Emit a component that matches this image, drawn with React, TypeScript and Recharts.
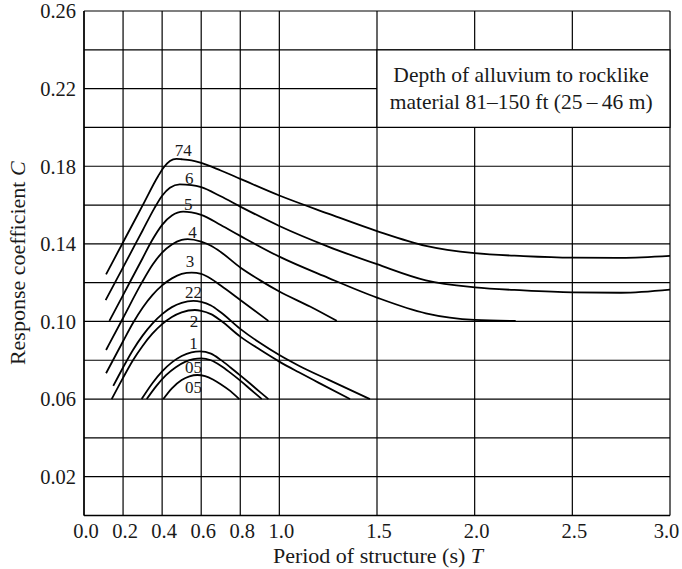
import React from 'react';
import { LineChart, Line, XAxis, YAxis, CartesianGrid, ReferenceArea, ReferenceDot } from 'recharts';

const xTicks = [0, 0.2, 0.4, 0.6, 0.8, 1.0, 1.5, 2.0, 2.5, 3.0];
const yGrid = [0, 0.02, 0.04, 0.06, 0.08, 0.1, 0.12, 0.14, 0.16, 0.18, 0.2, 0.22, 0.24, 0.26];
const yLabeled = [0.02, 0.06, 0.1, 0.14, 0.18, 0.22, 0.26];

const curve74 = [
  { x: 0.113, y: 0.1243 }, { x: 0.2, y: 0.1408 }, { x: 0.3, y: 0.1598 }, { x: 0.38, y: 0.175 },
  { x: 0.41, y: 0.1796 }, { x: 0.44, y: 0.1827 }, { x: 0.473, y: 0.1838 }, { x: 0.5, y: 0.1836 },
  { x: 0.55, y: 0.183 }, { x: 0.6, y: 0.1817 }, { x: 0.7, y: 0.1778 }, { x: 0.8, y: 0.1735 },
  { x: 1.0, y: 0.1649 }, { x: 1.25, y: 0.1556 }, { x: 1.5, y: 0.1466 }, { x: 1.75, y: 0.139 },
  { x: 2.0, y: 0.1352 }, { x: 2.25, y: 0.1337 }, { x: 2.5, y: 0.1329 }, { x: 2.75, y: 0.1328 },
  { x: 3.0, y: 0.1338 },
];
const curve6 = [
  { x: 0.111, y: 0.111 }, { x: 0.2, y: 0.1279 }, { x: 0.3, y: 0.1469 }, { x: 0.36, y: 0.1583 },
  { x: 0.4, y: 0.1648 }, { x: 0.44, y: 0.1689 }, { x: 0.49, y: 0.1707 }, { x: 0.55, y: 0.1703 },
  { x: 0.6, y: 0.1692 }, { x: 0.7, y: 0.1645 }, { x: 0.8, y: 0.1592 }, { x: 1.0, y: 0.1492 },
  { x: 1.25, y: 0.1386 }, { x: 1.5, y: 0.1295 }, { x: 1.75, y: 0.1212 }, { x: 2.0, y: 0.1176 },
  { x: 2.25, y: 0.116 }, { x: 2.5, y: 0.115 }, { x: 2.75, y: 0.1148 }, { x: 3.0, y: 0.1164 },
];
const curve5 = [
  { x: 0.13, y: 0.1003 }, { x: 0.2, y: 0.1136 }, { x: 0.3, y: 0.1326 }, { x: 0.345, y: 0.1412 },
  { x: 0.4, y: 0.1498 }, { x: 0.45, y: 0.1546 }, { x: 0.508, y: 0.1566 }, { x: 0.55, y: 0.1562 },
  { x: 0.6, y: 0.1549 }, { x: 0.7, y: 0.1497 }, { x: 0.8, y: 0.1441 }, { x: 1.0, y: 0.1334 },
  { x: 1.25, y: 0.1225 }, { x: 1.5, y: 0.1123 }, { x: 1.75, y: 0.1042 }, { x: 2.0, y: 0.1008 },
  { x: 2.21, y: 0.1003 },
];
const curve4 = [
  { x: 0.113, y: 0.0853 }, { x: 0.2, y: 0.1018 }, { x: 0.296, y: 0.12 }, { x: 0.35, y: 0.1291 },
  { x: 0.4, y: 0.1355 }, { x: 0.45, y: 0.1397 }, { x: 0.5, y: 0.142 }, { x: 0.531, y: 0.1424 },
  { x: 0.6, y: 0.1411 }, { x: 0.65, y: 0.139 }, { x: 0.7, y: 0.1358 }, { x: 0.8, y: 0.1278 },
  { x: 0.9, y: 0.1213 }, { x: 1.0, y: 0.1154 }, { x: 1.157, y: 0.1077 }, { x: 1.294, y: 0.1003 },
];
const curve3 = [
  { x: 0.113, y: 0.0733 }, { x: 0.2, y: 0.0898 }, { x: 0.25, y: 0.0991 }, { x: 0.3, y: 0.1071 },
  { x: 0.35, y: 0.1136 }, { x: 0.4, y: 0.1186 }, { x: 0.45, y: 0.1222 }, { x: 0.5, y: 0.1245 },
  { x: 0.551, y: 0.1252 }, { x: 0.6, y: 0.1245 }, { x: 0.65, y: 0.122 }, { x: 0.7, y: 0.1185 },
  { x: 0.8, y: 0.1111 }, { x: 0.944, y: 0.1003 },
];
const curve22 = [
  { x: 0.15, y: 0.0668 }, { x: 0.2, y: 0.0763 }, { x: 0.25, y: 0.0852 }, { x: 0.3, y: 0.0927 },
  { x: 0.35, y: 0.0989 }, { x: 0.4, y: 0.1038 }, { x: 0.45, y: 0.1074 }, { x: 0.5, y: 0.1096 },
  { x: 0.56, y: 0.1106 }, { x: 0.6, y: 0.1101 }, { x: 0.65, y: 0.1082 }, { x: 0.7, y: 0.1047 },
  { x: 0.8, y: 0.0962 }, { x: 0.9, y: 0.089 }, { x: 1.0, y: 0.0827 }, { x: 1.1, y: 0.0772 },
  { x: 1.25, y: 0.07 }, { x: 1.464, y: 0.06 },
];
const curve2 = [
  { x: 0.142, y: 0.06 }, { x: 0.199, y: 0.0708 }, { x: 0.25, y: 0.0799 }, { x: 0.3, y: 0.0874 },
  { x: 0.35, y: 0.0937 }, { x: 0.4, y: 0.0986 }, { x: 0.45, y: 0.1023 }, { x: 0.5, y: 0.1047 },
  { x: 0.568, y: 0.1059 }, { x: 0.6, y: 0.1055 }, { x: 0.65, y: 0.1038 }, { x: 0.7, y: 0.1005 },
  { x: 0.8, y: 0.0922 }, { x: 0.9, y: 0.0855 }, { x: 1.0, y: 0.0793 }, { x: 1.1, y: 0.0738 },
  { x: 1.2, y: 0.0685 }, { x: 1.362, y: 0.06 },
];
const curve1 = [
  { x: 0.295, y: 0.06 }, { x: 0.35, y: 0.0682 }, { x: 0.4, y: 0.0743 }, { x: 0.45, y: 0.0789 },
  { x: 0.5, y: 0.0822 }, { x: 0.55, y: 0.0841 }, { x: 0.594, y: 0.0846 }, { x: 0.65, y: 0.0834 },
  { x: 0.7, y: 0.0802 }, { x: 0.75, y: 0.0763 }, { x: 0.8, y: 0.0722 }, { x: 0.85, y: 0.068 },
  { x: 0.9, y: 0.0637 }, { x: 0.944, y: 0.06 },
];
const curve05a = [
  { x: 0.321, y: 0.06 }, { x: 0.37, y: 0.0667 }, { x: 0.42, y: 0.0723 }, { x: 0.47, y: 0.0764 },
  { x: 0.52, y: 0.0793 }, { x: 0.56, y: 0.0806 }, { x: 0.6, y: 0.081 }, { x: 0.65, y: 0.08 },
  { x: 0.7, y: 0.0772 }, { x: 0.75, y: 0.0735 }, { x: 0.8, y: 0.0695 }, { x: 0.85, y: 0.0652 },
  { x: 0.91, y: 0.06 },
];
const curve05b = [
  { x: 0.406, y: 0.06 }, { x: 0.45, y: 0.0655 }, { x: 0.5, y: 0.0698 }, { x: 0.54, y: 0.0717 },
  { x: 0.58, y: 0.0724 }, { x: 0.62, y: 0.0718 }, { x: 0.66, y: 0.0701 }, { x: 0.7, y: 0.0677 },
  { x: 0.75, y: 0.0641 }, { x: 0.795, y: 0.06 },
];

const curves = [curve74, curve6, curve5, curve4, curve3, curve22, curve2, curve1, curve05a, curve05b];

const curveLabels = [
  { text: '74', x: 0.508, y: 0.1884 },
  { text: '6', x: 0.539, y: 0.1741 },
  { text: '5', x: 0.534, y: 0.1606 },
  { text: '4', x: 0.556, y: 0.1463 },
  { text: '3', x: 0.543, y: 0.131 },
  { text: '22', x: 0.56, y: 0.1154 },
  { text: '2', x: 0.563, y: 0.1 },
  { text: '1', x: 0.56, y: 0.0891 },
  { text: '05', x: 0.56, y: 0.0763 },
  { text: '05', x: 0.56, y: 0.0664 },
];

const noteBox = { x1: 1.5, x2: 3.0, y1: 0.2, y2: 0.24 };
const noteLines = [
  { text: 'Depth of alluvium to rocklike', x: 2.238, y: 0.2271 },
  { text: 'material 81\u2013150 ft (25\u2009\u2013\u200946 m)', x: 2.238, y: 0.2133 },
];

const FONT = '"Liberation Serif", "Times New Roman", serif';
const INK = '#1a1a1a';

const isLabeled = (v: number) => yLabeled.some((l) => Math.abs(l - v) < 1e-9);

const YLabel = (props: any) => {
  const vb = props.viewBox || { x: 0, y: 0, width: 0, height: 0 };
  const cx = 17;
  const cy = vb.y + vb.height / 2;
  return (
    <text
      x={cx}
      y={cy}
      transform={`rotate(-90 ${cx} ${cy})`}
      textAnchor="middle"
      dominantBaseline="central"
      fontFamily={FONT}
      fontSize={22}
      fill={INK}
    >
      Response coefficient <tspan fontStyle="italic">C</tspan>
    </text>
  );
};

const XLabel = (props: any) => {
  const vb = props.viewBox || { x: 0, y: 0, width: 0, height: 0 };
  return (
    <text x={vb.x + vb.width / 2 + 1} y={563} textAnchor="middle" fontFamily={FONT} fontSize={22} fill={INK}>
      Period of structure (s) <tspan fontStyle="italic">T</tspan>
    </text>
  );
};

const XTick = (props: any) => {
  const { x, y, payload } = props;
  const v = payload.value as number;
  const shift = Math.abs(v - 3) < 1e-9 ? -3.5 : 2;
  return (
    <text x={x + shift} y={y} dy="0.71em" textAnchor="middle" fontFamily={FONT} fontSize={20.5} fill={INK}>
      {v.toFixed(1)}
    </text>
  );
};

export default function App() {
  return (
    <div style={{ position: 'absolute', left: 0, top: 0 }}>
      <LineChart width={682} height={569} margin={{ top: 11, right: 12, left: 0, bottom: 0 }}>
        <CartesianGrid stroke="#000" strokeWidth={1.2} />
        <XAxis
          type="number"
          dataKey="x"
          domain={[0, 3]}
          ticks={xTicks}
          interval={0}
          tickLine={false}
          axisLine={{ stroke: '#000', strokeWidth: 1.4 }}
          tick={<XTick />}
          height={53.5}
          label={<XLabel />}
        />
        <YAxis
          type="number"
          domain={[0, 0.26]}
          ticks={yGrid}
          interval={0}
          tickFormatter={(v: number) => (isLabeled(v) ? v.toFixed(2) : '')}
          tickLine={false}
          axisLine={{ stroke: '#000', strokeWidth: 1.4 }}
          tick={{ fontFamily: FONT, fontSize: 20.5, fill: INK }}
          width={84}
          label={<YLabel />}
        />
        <ReferenceArea
          x1={noteBox.x1}
          x2={noteBox.x2}
          y1={noteBox.y1}
          y2={noteBox.y2}
          fill="#fff"
          fillOpacity={1}
          stroke="#000"
          strokeWidth={1.2}
        />
        {noteLines.map((l, i) => (
          <ReferenceDot
            key={`n${i}`}
            x={l.x}
            y={l.y}
            r={0}
            fill="none"
            stroke="none"
            label={{ value: l.text, position: 'center', fontFamily: FONT, fontSize: 21.5, fill: INK }}
          />
        ))}
        {curves.map((c, i) => (
          <Line
            key={`c${i}`}
            data={c}
            dataKey="y"
            type="monotone"
            stroke="#000"
            strokeWidth={1.8}
            dot={false}
            activeDot={false}
            isAnimationActive={false}
          />
        ))}
        {curveLabels.map((l, i) => (
          <ReferenceDot
            key={`l${i}`}
            x={l.x}
            y={l.y}
            r={0}
            fill="none"
            stroke="none"
            label={{ value: l.text, position: 'center', fontFamily: FONT, fontSize: 17, fill: INK }}
          />
        ))}
      </LineChart>
    </div>
  );
}
